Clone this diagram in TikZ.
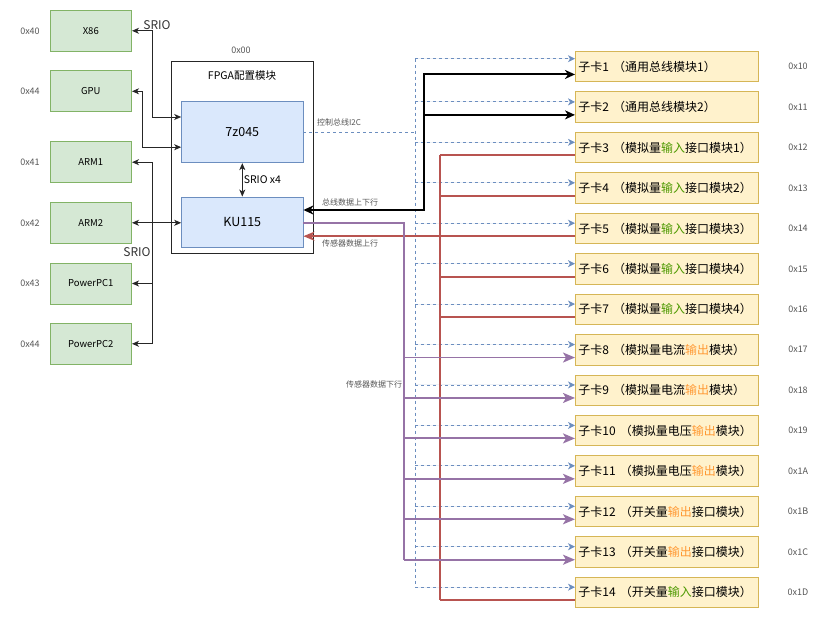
\documentclass[tikz,border=0pt]{standalone}
\usepackage{fontspec}
\setmainfont{Noto Sans CJK SC}
\usetikzlibrary{arrows.meta}
\definecolor{gfill}{HTML}{D5E8D4}
\definecolor{gline}{HTML}{82B366}
\definecolor{bfill}{HTML}{DAE8FC}
\definecolor{bline}{HTML}{6C8EBF}
\definecolor{yfill}{HTML}{FFF2CC}
\definecolor{yline}{HTML}{D6B656}
\definecolor{redl}{HTML}{B85450}
\definecolor{purl}{HTML}{9673A6}
\definecolor{txtg}{HTML}{555555}
\definecolor{ingreen}{HTML}{4D9900}
\definecolor{outorange}{HTML}{FF9933}
\newcommand{\gin}[1]{\textcolor{ingreen}{#1}}
\newcommand{\gout}[1]{\textcolor{outorange}{#1}}
\tikzset{
  gbox/.style={draw=gline,fill=gfill,line width=0.9pt,minimum width=81.5pt,minimum height=41pt,inner sep=0pt,font=\fontsize{9.5}{11}\selectfont},
  bbox/.style={draw=bline,fill=bfill,line width=0.9pt,minimum width=121.3pt,inner sep=0pt,font=\fontsize{12.5}{14}\selectfont},
  card/.style={draw=yline,fill=yfill,line width=0.9pt,anchor=north west,minimum height=30.5pt,text width=177pt,inner xsep=3pt,inner ysep=0pt,align=left,font=\fontsize{12}{14}\selectfont},
  addr/.style={text=txtg,font=\fontsize{9}{10}\selectfont,inner sep=0pt},
  lbl/.style={text=txtg,font=\fontsize{8}{9}\selectfont,inner sep=0pt},
  lk/.style={line width=0.9pt,draw=black!85},
  lkh/.style={-{Stealth[length=7pt,width=6pt,inset=2pt]}},
  lkhh/.style={{Stealth[length=7pt,width=6pt,inset=2pt]}-{Stealth[length=7pt,width=6pt,inset=2pt]}},
  bd/.style={draw=bline,line width=0.9pt,dash pattern=on 3pt off 3pt},
  bdh/.style={-{Stealth[length=7pt,width=7pt,inset=2pt]},fill=bline},
  bk/.style={draw=black,line width=1.9pt},
  bkh/.style={-{Stealth[length=10pt,width=9pt,inset=3pt]}},
  rd/.style={draw=redl,line width=1.9pt},
  pu/.style={draw=purl,line width=1.9pt},
  puh/.style={-{Stealth[length=12pt,width=10pt,inset=3pt]}}
}
\begin{document}
\begin{tikzpicture}[x=1pt,y=-1pt]
\useasboundingbox (0,0) rectangle (830,620);
% left boxes
\node[gbox] (x86) at (90.8,30.8) {X86};
\node[gbox] (gpu) at (90.8,91.3) {GPU};
\node[gbox] (arm1) at (90.8,162.2) {ARM1};
\node[gbox] (arm2) at (90.8,222.8) {ARM2};
\node[gbox] (pp1) at (90.8,283.5) {PowerPC1};
\node[gbox] (pp2) at (90.8,343.8) {PowerPC2};
\node[addr] (a40) at (30,30.8) {0x40};
\node[addr] (a44) at (30,91.3) {0x44};
\node[addr] (a41) at (30,162.2) {0x41};
\node[addr] (a42) at (30,222.8) {0x42};
\node[addr] (a43) at (30,283.5) {0x43};
\node[addr] (a44b) at (30,343.8) {0x44};
% FPGA block
\node[draw=black!85,line width=0.9pt,minimum width=141.3pt,minimum height=191.3pt,inner sep=0pt] (fpga) at (242.35,157.35) {};
\node[font=\fontsize{10.5}{12}\selectfont,inner sep=0pt] (fpgat) at (242,76) {FPGA配置模块};
\node[addr] (a00) at (241,50) {0x00};
\node[bbox,minimum height=61pt] (z) at (242.3,132.2) {7z045};
\node[bbox,minimum height=50pt] (ku) at (242.3,222) {KU115};
\draw[lk,lkhh] (z.south) -- (ku.north) node[midway,right,inner sep=1pt,font=\fontsize{10.5}{12}\selectfont] (srx4) {SRIO x4};
% helper coordinates
\coordinate (sx) at (152,0);
\coordinate (gx) at (142,0);
\coordinate (vb) at (415,0);
\coordinate (bx) at (424,0);
\coordinate (rx) at (440,0);
\coordinate (px) at (404,0);
% left connectors
\path ([yshift=15.2pt]z.west) coordinate (zA) ([yshift=-15pt]z.west) coordinate (zB);
\draw[lk,lkhh] (x86.east) -| (sx |- zA) -- (zA);
\draw[lk,lkhh] (gpu.east) -| (gx |- zB) -- (zB);
\draw[lk,lkhh] (arm2.east) -- (arm2.east -| ku.west);
\draw[lk] (arm1.east -| sx) -- (pp2.east -| sx);
\draw[lk,lkh] (arm1.east -| sx) -- (arm1.east);
\draw[lk,lkh] (pp1.east -| sx) -- (pp1.east);
\draw[lk,lkh] (pp2.east -| sx) -- (pp2.east);
\node[font=\fontsize{12}{14}\selectfont,inner sep=0pt,text=black!80] (srio1) at (157,25) {SRIO};
\node[font=\fontsize{12}{14}\selectfont,inner sep=0pt,text=black!80] (srio2) at (137,252) {SRIO};
% cards
\node[card] (c1) at (575,51) {子卡1 （通用总线模块1）};
\node[card] (c2) at (575,91.44) {子卡2 （通用总线模块2）};
\node[card] (c3) at (575,131.88) {子卡3 （模拟量\gin{输入}接口模块1）};
\node[card] (c4) at (575,172.32) {子卡4 （模拟量\gin{输入}接口模块2）};
\node[card] (c5) at (575,212.76) {子卡5 （模拟量\gin{输入}接口模块3）};
\node[card] (c6) at (575,253.2) {子卡6 （模拟量\gin{输入}接口模块4）};
\node[card] (c7) at (575,293.64) {子卡7 （模拟量\gin{输入}接口模块4）};
\node[card] (c8) at (575,334.08) {子卡8 （模拟量电流\gout{输出}模块）};
\node[card] (c9) at (575,374.52) {子卡9 （模拟量电流\gout{输出}模块）};
\node[card] (c10) at (575,414.96) {子卡10 （模拟量电压\gout{输出}模块）};
\node[card] (c11) at (575,455.4) {子卡11 （模拟量电压\gout{输出}模块）};
\node[card] (c12) at (575,495.84) {子卡12 （开关量\gout{输出}接口模块）};
\node[card] (c13) at (575,536.28) {子卡13 （开关量\gout{输出}接口模块）};
\node[card] (c14) at (575,576.72) {子卡14 （开关量\gin{输入}接口模块）};
\foreach \i/\a in {1/0x10,2/0x11,3/0x12,4/0x13,5/0x14,6/0x15,7/0x16,8/0x17,9/0x18,10/0x19,11/0x1A,12/0x1B,13/0x1C,14/0x1D}{
  \node[addr] (ad\i) at (c\i.center -| 798,0) {\a};
  \path ([yshift=5.25pt]c\i.west) coordinate (b\i);
  \path ([yshift=-7.75pt]c\i.west) coordinate (r\i);
}
\path ([yshift=8pt]c1.west) coordinate (b1);
% blue dashed control bus
\draw[bd] (z.east) -- (z.east -| vb);
\draw[bd] (b1 -| vb) -- (b14 -| vb);
\foreach \i in {1,...,14}{
  \draw[bd,bdh] (b\i -| vb) -- (b\i);
}
\node[lbl] (i2c) at (339,122) {控制总线I2C};
% red sensor up
\draw[rd] (r3 -| rx) -- (r14 -| rx);
\foreach \i in {3,4,6,7,14}{
  \draw[rd] (r\i -| rx) -- (r\i);
}
\draw[rd,-{Stealth[length=11pt,width=9pt,inset=3pt]}] (r5) -- (r5 -| ku.east);
\node[lbl] (sup) at (350,243) {传感器数据上行};
% purple sensor down
\path ([yshift=-0.7pt]ku.east) coordinate (pu0);
\draw[pu] (pu0) -| (r13 -| px);
\foreach \i in {8,...,13}{
  \draw[pu,puh] (r\i -| px) -- (r\i);
}
\node[lbl] (sdn) at (374,384) {传感器数据下行};
% black bus
\path ([yshift=12pt]ku.east) coordinate (ku12);
\draw[bk,{Stealth[length=10pt,width=9pt,inset=3pt]}-{Stealth[length=10pt,width=9pt,inset=3pt]}] (ku12) -- (ku12 -| bx) |- (r1);
\draw[bk,bkh] (r2 -| bx) -- (r2);
\node[lbl] (bus) at (350,202) {总线数据上下行};
\end{tikzpicture}
\end{document}
